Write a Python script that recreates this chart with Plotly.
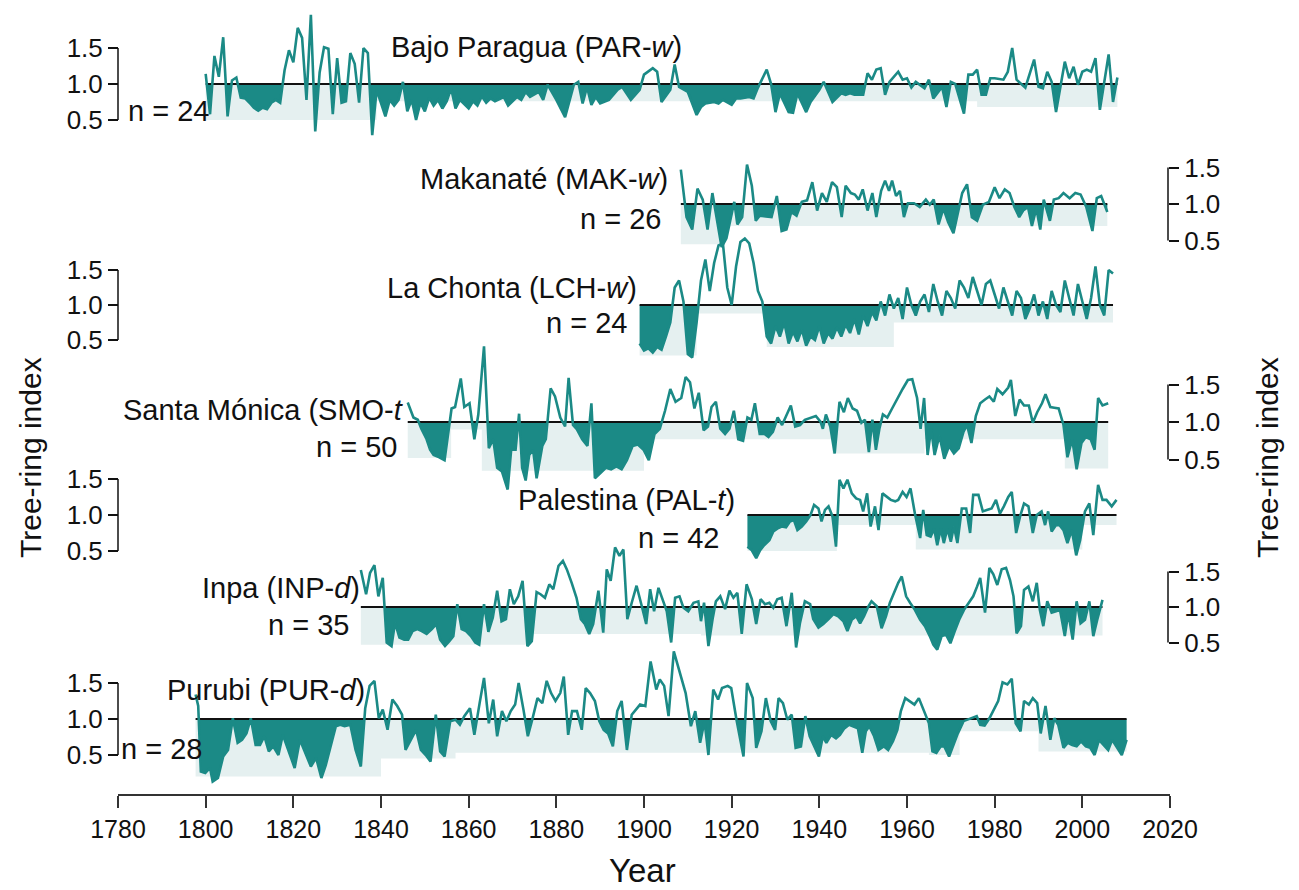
import plotly.graph_objects as go

W, H = 1299, 890
TEAL = '#1b8a86'
BAND = '#e5f0f0'
FONT = 'Liberation Sans, Arial, sans-serif'

# ---------------- data ----------------
par_years = [1800,1801,1802,1803,1804,1805,1806,1807,1808,1809,1810,1811,1812,1813,1814,1815,1816,1817,1818,1819,
             1820,1821,1822,1823,1824,1825,1826,1827,1828,1829,1830,1831,1832,1833,1834,1835,1836,1837,1838,1839,
             1841,1842,1843,1844,1845,1846,1847,1848,1849,1850,1851,1852,1853,1854,1855,1856,1857,1858,1860,1861,
             1862,1863,1864,1865,1866,1868,1869,1870,1871,1872,1873,1874,1876,1877,1878,1880,1882,1884,1885,1886,
             1887,1888,1889,1890,1892,1894,1895,1897,1899,1900,1902,1903,1904,1906,1907,1908,1909,1910,1912,1913,
             1914,1916,1917,1918,1920,1921,1922,1924,1925,1926,1928,1929,1930,1931,1933,1934,1935,1937,1938,1940,
             1941,1943,1945,1946,1947,1948,1950,1951,1952,1953,1954,1955,1956,1958,1959,1960,1961,1962,1964,1965,
             1966,1968,1969,1970,1971,1973,1974,1975,1976,1977,1978,1979,1980,1982,1983,1984,1985,1986,1987,1989,
             1990,1991,1992,1993,1994,1996,1997,1998,1999,2000,2001,2002,2003,2004,2006,2007,2008]
par_vals = [1.14,0.58,1.39,1.10,1.65,0.55,1.05,1.09,0.81,0.80,0.74,0.67,0.63,0.67,0.65,0.74,0.78,0.74,1.19,1.47,
            1.30,1.78,1.64,0.78,1.96,0.34,1.16,1.51,1.49,0.58,1.36,0.74,0.76,1.43,1.28,0.74,1.50,1.43,0.29,0.92,
            0.55,0.78,0.70,0.78,1.03,0.62,0.78,0.50,0.74,0.62,0.81,0.70,0.78,0.66,0.76,0.94,0.66,0.78,0.66,0.76,
            0.70,0.83,0.74,0.80,0.76,0.82,0.70,0.76,0.82,0.78,0.89,0.82,0.89,0.78,0.99,0.78,0.54,0.99,1.03,0.73,
            0.96,0.71,0.82,0.73,0.78,0.92,0.96,0.78,0.92,1.13,1.22,1.17,0.75,0.92,1.27,0.96,0.92,0.89,0.57,0.68,
            0.73,0.75,0.73,0.78,0.71,0.80,0.80,0.82,0.80,0.95,1.20,1.00,0.61,0.87,0.61,0.60,0.87,0.61,0.75,0.92,
            1.03,0.75,0.87,0.85,0.87,0.85,0.85,1.15,1.06,1.20,1.22,0.85,1.03,1.17,1.06,1.08,0.95,1.03,0.94,1.06,
            0.80,0.96,0.68,1.03,1.00,0.59,1.13,1.13,1.20,0.85,0.85,1.08,1.08,1.06,1.17,1.50,1.06,1.00,0.95,1.34,
            0.96,0.94,1.17,1.03,0.61,1.31,1.08,1.24,0.99,1.17,1.20,1.17,1.36,0.64,1.41,0.75,1.09]

mak_years = [1908.4,1909.7,1911.0,1912.2,1913.4,1914.5,1915.6,1916.8,1917.7,1918.8,1919.9,1920.6,1921.3,1922.4,1923.5,
             1924.6,1925.5,1926.4,1927.8,1929.1,1930.3,1931.4,1932.5,1933.6,1934.8,1936.0,1937.2,1938.4,1939.5,1940.6,
             1941.7,1942.9,1944.0,1945.1,1946.0,1947.2,1948.1,1949.0,1949.9,1951.0,1952.1,1953.0,1954.1,1955.0,1955.9,
             1956.6,1957.5,1958.4,1959.3,1960.2,1961.6,1962.9,1964.3,1965.2,1966.1,1967.2,1968.3,1969.4,1970.6,1971.5,
             1972.6,1973.7,1974.8,1976.0,1977.3,1978.7,1980.0,1981.1,1982.3,1983.4,1984.5,1985.6,1986.5,1987.6,1988.5,
             1989.5,1990.4,1991.2,1992.6,1993.5,1994.6,1995.7,1997.1,1998.4,1999.6,2000.9,2002.3,2003.3,2004.3,2005.7]
mak_vals = [1.47,0.82,0.65,1.21,1.06,0.65,1.15,0.70,0.41,0.53,0.82,1.03,0.72,0.82,1.54,
            1.25,0.77,0.84,0.83,0.82,1.11,0.63,0.65,0.89,0.84,1.03,1.05,1.30,0.91,1.15,
            1.03,1.30,1.23,0.82,1.25,1.15,1.13,1.06,1.20,0.91,1.15,0.82,1.18,1.32,1.18,
            1.32,1.11,1.18,0.82,1.01,1.01,0.96,1.06,0.99,1.06,0.72,0.94,0.75,0.60,0.87,
            1.15,1.27,0.82,0.77,0.99,1.03,1.23,1.08,1.20,1.15,0.96,0.82,0.91,0.96,0.70,
            0.94,0.65,1.06,0.77,1.06,1.08,1.15,1.08,1.15,1.13,0.96,0.63,1.08,1.11,0.89]

lch_years = list(range(1899, 2008))
lch_vals = [0.45,0.35,0.38,0.32,0.40,0.36,0.55,0.75,1.25,1.35,1.05,0.30,0.25,0.75,1.35,1.65,1.20,1.60,1.85,1.88,
            1.25,1.00,1.55,1.90,1.95,1.88,1.60,1.20,1.05,0.55,0.45,0.70,0.55,0.75,0.45,0.62,0.48,0.65,0.42,0.55,
            0.50,0.70,0.45,0.60,0.52,0.68,0.55,0.72,0.60,0.80,0.58,0.85,0.70,0.90,0.78,1.05,0.85,1.15,0.95,1.10,
            0.80,1.25,1.00,0.85,1.05,1.15,0.90,1.30,1.05,0.85,1.20,1.10,0.95,1.35,1.25,1.10,1.40,1.20,1.00,1.30,
            1.35,1.15,0.95,1.25,1.05,0.85,1.20,1.10,0.80,0.95,1.15,0.85,1.05,0.80,1.20,1.00,0.90,1.35,1.10,0.85,
            1.30,1.05,0.80,1.10,1.55,1.00,0.85,1.50,1.45]

smo_years = [1846.1,1847.4,1848.4,1849.2,1850.4,1851.2,1852.0,1853.3,1854.5,1855.3,1856.1,1856.9,1858.2,1859.0,1860.2,
             1861.3,1862.2,1863.5,1864.6,1865.6,1866.5,1867.6,1868.9,1869.7,1870.7,1871.5,1872.2,1873.0,1873.8,1874.7,
             1875.5,1876.8,1877.6,1878.7,1879.7,1880.9,1882.0,1882.8,1883.8,1884.6,1885.9,1887.1,1888.0,1888.8,1890.0,
             1891.3,1892.5,1893.7,1894.9,1896.1,1897.4,1898.6,1899.9,1901.1,1902.4,1903.6,1904.8,1906.0,1907.2,1908.5,
             1909.5,1910.5,1911.5,1912.5,1913.6,1914.6,1915.4,1916.4,1917.4,1918.5,1919.5,1920.5,1921.5,1922.6,1923.6,
             1924.5,1925.3,1926.4,1927.5,1928.4,1929.4,1930.5,1931.5,1932.5,1933.5,1934.5,1935.6,1936.7,1938.0,1939.2,
             1940.3,1940.8,1941.5,1942.5,1943.5,1944.6,1945.6,1946.5,1947.6,1948.6,1949.6,1950.4,1951.3,1952.1,1952.9,
             1953.7,1954.5,1955.5,1956.6,1957.8,1959.0,1960.2,1961.2,1962.3,1963.1,1963.9,1964.7,1965.5,1966.3,1967.4,
             1968.5,1969.6,1970.7,1971.8,1972.9,1973.7,1974.7,1975.7,1976.7,1977.8,1978.8,1979.8,1980.6,1981.8,1983.1,
             1983.7,1984.7,1985.7,1986.7,1987.8,1988.7,1989.7,1990.8,1991.6,1992.7,1993.6,1994.6,1995.7,1996.6,1997.7,
             1998.7,1999.8,2000.8,2001.9,2002.8,2003.6,2004.6,2005.9]
smo_vals = [1.26,1.06,1.03,0.91,0.77,0.63,0.56,0.53,0.49,0.87,1.18,1.20,1.58,1.20,1.25,
            0.77,1.10,2.01,0.65,0.77,0.39,0.34,0.10,0.63,0.63,1.11,0.39,0.22,0.56,0.63,
            0.25,0.68,0.77,1.45,1.34,1.06,0.94,1.59,0.96,0.91,0.77,0.68,1.25,0.25,0.32,
            0.39,0.37,0.41,0.37,0.49,0.68,0.70,0.63,0.49,0.84,0.91,1.15,1.44,1.27,1.32,
            1.60,1.53,1.18,1.39,0.89,0.94,1.20,1.27,0.91,0.84,0.91,1.15,0.77,0.75,1.06,
            1.03,1.25,0.84,0.84,0.80,0.87,1.06,0.96,1.08,1.22,0.94,0.96,1.03,1.06,1.08,
            1.00,0.91,1.10,0.94,0.58,1.27,1.13,1.32,1.18,1.15,0.99,1.03,0.60,1.03,0.63,
            0.91,1.10,1.06,1.18,1.32,1.44,1.56,1.57,1.32,0.91,1.32,0.56,0.91,0.56,0.82,
            0.51,0.68,0.58,0.65,0.87,0.96,0.72,1.08,1.25,1.30,1.34,1.27,1.44,1.37,1.46,
            1.56,1.08,1.30,1.22,1.22,0.99,1.13,1.25,1.37,1.20,1.19,1.18,0.96,0.53,0.77,
            0.37,0.72,0.80,0.77,0.63,1.32,1.22,1.25]

pal_years = [1923.6,1924.6,1925.6,1926.5,1927.4,1928.6,1929.5,1930.4,1931.4,1932.4,1933.3,1934.2,1935.0,1936.0,1937.0,
             1938.0,1938.8,1939.8,1940.5,1941.3,1942.1,1943.0,1943.8,1944.6,1945.5,1946.4,1947.4,1948.4,1949.3,1950.0,
             1950.9,1951.7,1952.7,1953.5,1954.4,1955.4,1956.3,1957.3,1958.0,1959.0,1959.9,1960.8,1961.8,1963.0,1963.7,
             1964.5,1965.4,1966.2,1966.9,1967.7,1968.4,1969.2,1970.0,1970.7,1971.5,1972.5,1973.5,1974.4,1975.1,1976.3,
             1977.3,1978.2,1979.3,1980.3,1981.2,1982.1,1983.1,1983.9,1984.9,1985.8,1986.7,1987.7,1988.7,1989.6,1990.7,
             1991.5,1992.2,1993.0,1994.0,1994.8,1995.7,1996.6,1997.6,1998.6,1999.5,2000.6,2001.6,2002.5,2003.6,2004.6,
             2005.5,2006.7,2007.8]
pal_vals = [0.56,0.51,0.40,0.51,0.58,0.65,0.77,0.81,0.84,0.83,0.91,0.93,0.79,0.84,0.91,
            1.00,1.14,1.09,0.91,1.07,1.12,0.98,0.56,1.49,1.37,1.49,1.30,1.23,1.21,1.05,
            1.30,0.84,1.12,0.79,1.30,1.25,1.21,1.19,1.21,1.32,1.25,1.37,1.02,0.68,1.07,
            0.72,0.70,0.81,0.58,0.81,0.61,0.81,0.63,0.84,0.61,1.09,1.09,0.75,1.28,1.28,
            1.05,1.07,1.09,1.21,1.02,1.12,1.25,1.32,0.75,0.98,1.16,1.12,0.75,1.00,1.05,
            0.86,1.05,0.77,0.86,0.86,0.79,0.61,0.79,0.44,0.65,1.05,1.16,0.72,1.42,1.21,
            1.21,1.12,1.21]

inp_years = [1835.4,1836.6,1837.5,1838.5,1839.4,1840.4,1841.3,1842.4,1843.2,1844.2,1845.3,1846.2,1847.2,1848.3,1849.3,
             1850.4,1851.6,1852.6,1853.5,1854.6,1855.6,1856.5,1857.4,1858.4,1859.4,1860.5,1861.5,1862.4,1863.5,1864.5,
             1865.5,1866.5,1867.5,1868.5,1869.4,1870.3,1871.3,1872.3,1873.4,1874.4,1875.5,1876.4,1877.4,1878.4,1879.3,
             1880.5,1881.5,1882.4,1883.5,1884.6,1885.6,1886.5,1887.5,1888.4,1889.6,1890.7,1891.5,1892.4,1893.4,1894.4,
             1895.3,1896.2,1897.2,1898.3,1899.5,1900.5,1901.4,1902.3,1903.3,1904.3,1905.2,1906.2,1907.1,1908.1,1909.0,
             1910.1,1911.3,1912.4,1913.0,1913.7,1914.7,1915.7,1916.4,1917.4,1918.5,1919.5,1920.4,1921.3,1922.3,1923.4,
             1924.6,1925.6,1926.6,1927.6,1928.6,1929.5,1930.4,1931.4,1932.5,1933.7,1934.7,1935.6,1936.7,1937.9,1938.6,
             1939.8,1940.9,1942.1,1943.2,1944.3,1945.5,1946.4,1947.4,1948.4,1949.3,1950.2,1951.2,1951.9,1953.1,1954.2,
             1955.2,1956.1,1957.0,1958.0,1958.8,1959.8,1960.7,1961.8,1963.0,1964.1,1965.2,1966.0,1966.9,1967.9,1968.9,
             1969.9,1970.9,1971.9,1973.0,1974.2,1975.1,1976.0,1976.7,1977.8,1978.8,1979.7,1980.6,1981.6,1982.6,1983.5,
             1984.3,1985.0,1986.0,1986.7,1987.7,1988.7,1989.6,1990.3,1991.1,1992.0,1993.0,1994.0,1994.9,1996.0,1996.8,
             1997.8,1998.7,1999.6,2000.6,2001.6,2002.5,2003.4,2004.6]
inp_vals = [1.52,1.18,1.48,1.59,1.15,1.41,0.50,0.45,0.78,0.57,0.54,0.54,0.66,0.69,0.66,
            0.62,0.69,0.76,0.54,0.45,0.52,0.59,1.04,0.69,0.66,0.59,0.50,0.47,1.04,0.65,
            0.85,1.23,0.80,0.83,1.25,1.04,1.15,1.37,0.45,0.52,1.21,1.18,1.13,1.32,1.25,
            1.58,1.65,1.53,1.34,1.13,0.83,0.76,0.62,0.76,1.23,0.64,1.53,1.37,1.84,1.72,
            1.81,0.83,1.06,1.30,1.01,0.76,1.25,0.94,1.27,1.08,0.94,0.50,1.13,1.15,0.99,
            0.94,1.06,1.08,0.80,1.06,0.45,0.85,1.08,1.15,0.97,1.23,1.13,1.20,0.62,1.32,
            1.11,0.76,1.11,1.04,1.06,0.99,1.11,1.13,0.73,1.20,0.43,0.78,1.08,1.04,0.83,
            0.71,0.76,0.83,0.90,0.87,0.80,0.66,0.82,0.87,0.77,0.87,1.01,1.08,1.01,0.70,
            0.87,1.06,1.20,1.34,1.43,1.15,1.06,0.96,0.82,0.73,0.59,0.47,0.40,0.59,0.61,
            0.49,0.66,0.82,0.96,1.06,1.15,1.29,1.41,0.92,1.55,1.46,1.31,1.53,1.55,1.38,
            1.15,0.63,0.73,1.24,1.29,1.08,1.34,0.96,0.73,1.08,0.92,0.94,0.96,0.59,0.92,
            0.54,1.08,0.77,0.82,1.08,0.59,0.82,1.10]

pur_years = [1797.7,1798.3,1798.9,1799.9,1801.0,1801.6,1802.8,1804.0,1805.1,1806.2,1807.3,1808.3,1809.3,1810.3,1811.4,
             1812.4,1813.4,1814.4,1815.4,1816.6,1817.6,1818.9,1820.3,1821.5,1822.8,1824.0,1825.2,1826.4,1827.4,1828.5,
             1829.7,1830.7,1831.7,1833.0,1834.2,1835.4,1836.4,1837.4,1838.5,1839.5,1840.4,1841.5,1842.6,1843.7,1844.8,
             1845.6,1846.8,1848.0,1849.1,1850.2,1851.3,1852.5,1853.5,1854.5,1855.8,1857.0,1858.0,1859.0,1860.3,1861.3,
             1862.5,1863.5,1864.6,1865.6,1866.5,1867.6,1868.6,1869.6,1870.6,1871.4,1872.5,1873.5,1874.5,1875.7,1876.8,
             1877.8,1878.8,1879.8,1880.9,1881.7,1882.7,1883.6,1884.7,1885.8,1886.7,1887.7,1888.8,1889.8,1890.8,1891.8,
             1892.9,1893.9,1894.9,1896.1,1897.2,1898.2,1899.1,1900.3,1901.5,1902.8,1903.6,1904.6,1905.6,1906.8,1908.1,
             1909.5,1910.7,1911.7,1912.8,1913.8,1914.7,1915.8,1916.9,1917.8,1919.1,1919.9,1921.1,1922.7,1923.5,1924.8,
             1925.6,1926.8,1927.8,1928.9,1929.9,1930.7,1931.7,1932.7,1933.7,1934.6,1935.8,1936.8,1937.8,1938.9,1939.9,
             1940.8,1941.6,1942.7,1943.8,1944.7,1945.7,1946.8,1947.8,1948.8,1949.8,1950.6,1951.4,1952.5,1953.5,1954.7,
             1955.7,1956.8,1957.8,1958.6,1959.6,1960.6,1961.7,1962.7,1963.9,1965.0,1965.8,1966.7,1967.7,1968.5,1969.6,
             1970.7,1971.6,1972.9,1973.9,1974.9,1975.9,1976.7,1977.7,1978.8,1979.8,1980.8,1981.8,1982.9,1983.9,1984.8,
             1985.9,1986.7,1987.8,1988.7,1989.7,1990.5,1991.6,1992.7,1993.6,1994.5,1995.7,1996.7,1997.7,1998.7,1999.7,
             2000.8,2001.8,2002.8,2003.8,2004.9,2005.9,2006.8,2007.9,2009.0,2010.1]
pur_vals = [1.34,1.18,0.27,0.25,0.32,0.13,0.18,0.48,0.57,1.01,0.67,0.71,0.80,1.01,0.64,
            0.64,0.76,0.55,0.62,0.50,0.78,0.55,0.32,0.71,0.53,0.34,0.46,0.18,0.36,0.62,
            0.90,0.92,0.90,0.92,0.57,0.34,1.15,1.46,1.53,1.01,1.13,0.85,1.27,1.18,1.06,
            0.57,0.71,0.85,0.57,0.50,0.41,1.06,0.55,0.48,0.97,0.99,0.92,1.04,1.15,0.78,
            1.22,1.57,0.94,1.27,0.76,1.11,0.97,1.11,1.20,1.50,1.13,0.76,0.99,1.29,1.22,
            1.53,1.36,1.25,1.36,1.59,0.78,1.11,1.11,0.85,1.43,1.36,1.25,0.97,0.85,0.80,
            0.62,1.11,1.25,0.57,1.06,1.13,1.20,1.18,1.80,1.41,1.55,1.46,1.04,1.94,1.67,
            1.36,0.90,1.11,0.67,0.97,0.50,1.41,1.27,1.43,1.46,1.43,0.99,0.48,1.50,1.29,
            0.60,0.83,1.29,0.97,0.85,1.29,1.22,0.99,1.06,0.60,0.62,1.04,0.76,0.62,0.48,
            0.76,0.67,0.78,0.73,0.78,0.87,0.92,0.90,0.87,0.53,0.83,0.90,0.76,0.57,0.62,
            0.57,0.69,0.85,1.11,1.29,1.25,1.20,1.29,1.11,0.94,0.55,0.53,0.62,0.62,0.48,
            0.67,0.80,0.97,0.99,1.01,1.04,0.92,0.91,1.01,1.13,1.25,1.51,1.48,1.56,0.94,
            0.83,1.25,1.20,1.29,1.22,0.80,1.18,0.71,1.01,0.92,0.60,0.67,0.64,0.62,0.69,
            0.62,0.60,0.50,0.71,0.64,0.57,0.71,0.60,0.50,0.71]

# light step band under the reference line: (edges, floor levels)
par_band_edges = [1800, 1839, 1976, 2008]
par_band_floor = [0.50, 0.76, 0.68]
mak_band_edges = [1908.4, 1918, 2005.7]
mak_band_floor = [0.45, 0.70]
lch_band_edges = [1899, 1912, 1928, 1957, 2007]
lch_band_floor = [0.28, 0.88, 0.40, 0.75]
smo_band_edges = [1846.1, 1856, 1863, 1900, 1943, 1964, 1996, 2005.9]
smo_band_floor = [0.52, 0.90, 0.35, 0.77, 0.58, 0.77, 0.38]
pal_band_edges = [1923.6, 1944, 1962, 2000, 2007.8]
pal_band_floor = [0.50, 0.86, 0.52, 0.86]
inp_band_edges = [1835.4, 1873, 1913, 1960, 2004.6]
inp_band_floor = [0.47, 0.62, 0.60, 0.60]
pur_band_edges = [1797.7, 1840, 1857, 1965, 1972, 1990, 2010.1]
pur_band_floor = [0.20, 0.45, 0.53, 0.50, 0.83, 0.55]

site_labels = ['Bajo Paragua (PAR-<i>w</i>)', 'Makanaté (MAK-<i>w</i>)', 'La Chonta (LCH-<i>w</i>)',
               'Santa Mónica (SMO-<i>t</i>', 'Palestina (PAL-<i>t</i>)', 'Inpa (INP-<i>d</i>)', 'Purubi (PUR-<i>d</i>)']
sample_sizes = [24, 26, 24, 50, 42, 35, 28]
year_ticks = list(range(1780, 2021, 20))
index_ticks = [0.5, 1.0, 1.5]
index_ticktext = ['0.5', '1.0', '1.5']

# ---------------- layout helpers ----------------
panels = [
    dict(x=par_years, v=par_vals, be=par_band_edges, bf=par_band_floor, base=84, k=72, side='left'),
    dict(x=mak_years, v=mak_vals, be=mak_band_edges, bf=mak_band_floor, base=204, k=73, side='right'),
    dict(x=lch_years, v=lch_vals, be=lch_band_edges, bf=lch_band_floor, base=305, k=70, side='left'),
    dict(x=smo_years, v=smo_vals, be=smo_band_edges, bf=smo_band_floor, base=422, k=75, side='right'),
    dict(x=pal_years, v=pal_vals, be=pal_band_edges, bf=pal_band_floor, base=515, k=72, side='left'),
    dict(x=inp_years, v=inp_vals, be=inp_band_edges, bf=inp_band_floor, base=607, k=71, side='right'),
    dict(x=pur_years, v=pur_vals, be=pur_band_edges, bf=pur_band_floor, base=719, k=72, side='left'),
]


def below_polygon(xs, vs):
    px, py = [], []
    for i in range(len(xs)):
        if i > 0:
            v0, v1 = vs[i - 1], vs[i]
            if (v0 - 1) * (v1 - 1) < 0:
                t = (1 - v0) / (v1 - v0)
                px.append(xs[i - 1] + t * (xs[i] - xs[i - 1]))
                py.append(1.0)
        px.append(xs[i])
        py.append(min(vs[i], 1.0))
    px += [xs[-1], xs[0]]
    py += [1.0, 1.0]
    return px, py


def band_polygon(edges, floors):
    px, py = [edges[0]], [1.0]
    for i, f in enumerate(floors):
        px += [edges[i], edges[i + 1]]
        py += [f, f]
    px.append(edges[-1])
    py.append(1.0)
    return px, py


fig = go.Figure()
LEFT_X = 118 / W
RIGHT_X = 1168 / W
shapes = []
layout_axes = {}

for i, p in enumerate(panels):
    n = i + 1
    yref = 'y' if n == 1 else f'y{n}'
    axname = 'yaxis' if n == 1 else f'yaxis{n}'
    bx, by = band_polygon(p['be'], p['bf'])
    fig.add_trace(go.Scatter(x=bx, y=by, yaxis=yref, mode='lines', fill='toself',
                             fillcolor=BAND, line=dict(width=0), hoverinfo='skip', showlegend=False))
    dx, dy = below_polygon(p['x'], p['v'])
    fig.add_trace(go.Scatter(x=dx, y=dy, yaxis=yref, mode='lines', fill='toself',
                             fillcolor=TEAL, line=dict(width=0, color=TEAL), hoverinfo='skip', showlegend=False))
    fig.add_trace(go.Scatter(x=[p['x'][0], p['x'][-1]], y=[1.0, 1.0], yaxis=yref, mode='lines',
                             line=dict(color='#111111', width=2), hoverinfo='skip', showlegend=False))
    fig.add_trace(go.Scatter(x=p['x'], y=p['v'], yaxis=yref, mode='lines',
                             line=dict(color=TEAL, width=2.6), showlegend=False))
    lo = 1 - (H - p['base']) / p['k']
    hi = 1 + p['base'] / p['k']
    pos = LEFT_X if p['side'] == 'left' else RIGHT_X
    ax = dict(range=[lo, hi], domain=[0, 1], anchor='free', position=pos, side=p['side'],
              showgrid=False, zeroline=False, showline=False, automargin=False,
              tickvals=index_ticks, ticktext=index_ticktext, ticks='outside', ticklen=10,
              tickwidth=1.5, tickcolor='#111111', tickfont=dict(size=26, color='#111111', family=FONT))
    if n > 1:
        ax['overlaying'] = 'y'
    layout_axes[axname] = ax
    shapes.append(dict(type='line', xref='paper', yref=yref, x0=pos, x1=pos, y0=0.5, y1=1.5,
                       line=dict(color='#111111', width=1.5)))


def pxx(x):
    return x / W


def pxy(y):
    return 1 - y / H


ann = []
label_pos = [  # (x, y, anchor) for site label, then (x, y, anchor) for n
    ((536, 47, 'center'), (126, 111, 'left')),
    ((670, 179, 'right'), (663, 219, 'right')),
    ((639, 288, 'right'), (629, 323, 'right')),
    ((121, 410, 'left'), (399, 447, 'right')),
    ((737, 500, 'right'), (721, 538, 'right')),
    ((362, 588, 'right'), (351, 625, 'right')),
    ((165, 690, 'left'), (119, 749, 'left')),
]
for lbl, n_s, (a, b) in zip(site_labels, sample_sizes, label_pos):
    ann.append(dict(text=lbl, x=pxx(a[0]), y=pxy(a[1]), xref='paper', yref='paper', xanchor=a[2],
                    yanchor='middle', showarrow=False, font=dict(size=29, color='#111111', family=FONT)))
    ann.append(dict(text=f'n = {n_s}', x=pxx(b[0]), y=pxy(b[1]), xref='paper', yref='paper', xanchor=b[2],
                    yanchor='middle', showarrow=False, font=dict(size=29, color='#111111', family=FONT)))

ann.append(dict(text='Tree-ring index', x=pxx(31), y=pxy(458), xref='paper', yref='paper', textangle=-90,
                showarrow=False, xanchor='center', yanchor='middle', font=dict(size=30, color='#111111', family=FONT)))
ann.append(dict(text='Tree-ring index', x=pxx(1268), y=pxy(458), xref='paper', yref='paper', textangle=-90,
                showarrow=False, xanchor='center', yanchor='middle', font=dict(size=30, color='#111111', family=FONT)))
ann.append(dict(text='Year', x=pxx(642), y=pxy(870), xref='paper', yref='paper', showarrow=False,
                xanchor='center', yanchor='middle', font=dict(size=33, color='#111111', family=FONT)))

fig.update_layout(
    width=W, height=H, margin=dict(l=0, r=0, t=0, b=0, autoexpand=False),
    paper_bgcolor='white', plot_bgcolor='white', showlegend=False,
    xaxis=dict(range=[1780, 2020], domain=[118 / W, 1170 / W], anchor='free', position=(H - 795) / H,
               showgrid=False, zeroline=False, showline=True, linecolor='#333333', linewidth=1.5,
               automargin=False,
               tickvals=year_ticks, ticks='outside', ticklen=12, tickwidth=1.5, tickcolor='#333333',
               tickfont=dict(size=25, color='#111111', family=FONT)),
    shapes=shapes, annotations=ann,
    **layout_axes,
)

fig.write_html('out.html')
